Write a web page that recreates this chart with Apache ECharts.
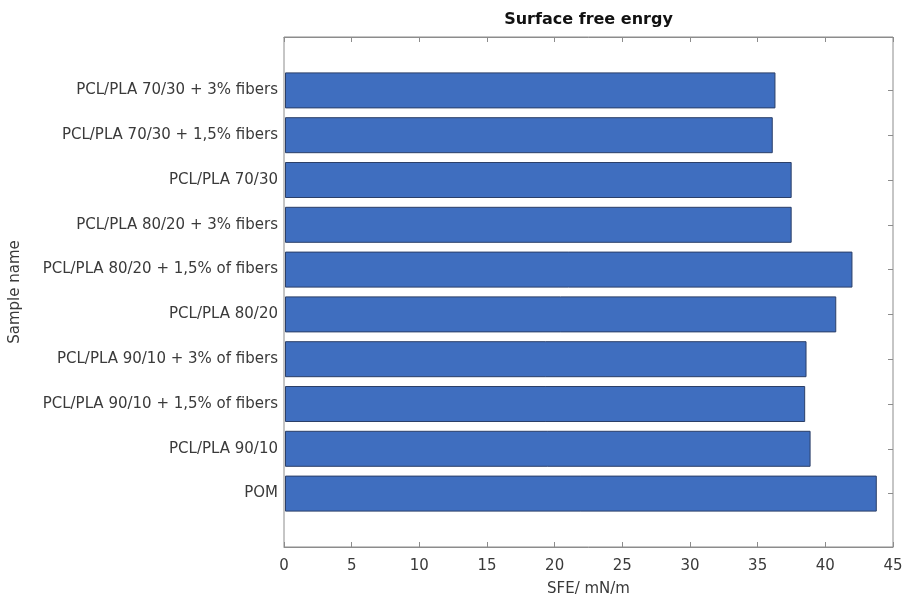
<!DOCTYPE html>
<html>
<head>
<meta charset="utf-8">
<script src="https://cdn.jsdelivr.net/npm/echarts@6/dist/echarts.min.js"></script>
<style>
html,body{margin:0;padding:0;background:#fff;}
#chart{width:906px;height:602px;}
</style>
</head>
<body>
<div id="chart"></div>
<script>
var categories = [
  'POM',
  'PCL/PLA 90/10',
  'PCL/PLA 90/10 + 1,5% of fibers',
  'PCL/PLA 90/10 + 3% of fibers',
  'PCL/PLA 80/20',
  'PCL/PLA 80/20 + 1,5% of fibers',
  'PCL/PLA 80/20 + 3% fibers',
  'PCL/PLA 70/30',
  'PCL/PLA 70/30 + 1,5% fibers',
  'PCL/PLA 70/30 + 3% fibers'
];
var sfeValues = [43.8, 38.9, 38.5, 38.6, 40.8, 42.0, 37.5, 37.5, 36.1, 36.3];
var xTicks = [0, 5, 10, 15, 20, 25, 30, 35, 40, 45];

var titleText = 'Surface free enrgy';
var xName = 'SFE/ mN/m';
var yName = 'Sample name';

var font = '"DejaVu Sans", "Liberation Sans", Arial, sans-serif';
var frameColor = '#8c8c8c';
var textColor = '#3a3a3a';

var chart = echarts.init(document.getElementById('chart'), null, {renderer: 'canvas'});
chart.setOption({
  animation: false,
  backgroundColor: '#ffffff',
  grid: [
    {left: 284, right: 13, top: 68, bottom: 86, containLabel: false},
    {left: 284, right: 13, top: 37, bottom: 55, containLabel: false,
     show: true, borderColor: frameColor, borderWidth: 1, backgroundColor: 'transparent'}
  ],
  xAxis: [
    {type: 'value', gridIndex: 0, min: xTicks[0], max: xTicks[xTicks.length - 1], interval: 5, show: false},
    {type: 'value', gridIndex: 1, position: 'bottom', min: xTicks[0], max: xTicks[xTicks.length - 1], interval: 5,
     axisLine: {show: true, lineStyle: {color: frameColor}},
     axisTick: {show: true, inside: true, length: 5, lineStyle: {color: frameColor}},
     axisLabel: {color: textColor, fontFamily: font, fontSize: 15, margin: 12},
     splitLine: {show: false},
     name: xName, nameLocation: 'middle', nameGap: 35,
     nameTextStyle: {color: textColor, fontFamily: font, fontSize: 15}},
    {type: 'value', gridIndex: 1, position: 'top', min: xTicks[0], max: xTicks[xTicks.length - 1], interval: 5,
     axisLine: {show: true, lineStyle: {color: frameColor}},
     axisTick: {show: true, inside: true, length: 5, lineStyle: {color: frameColor}},
     axisLabel: {show: false},
     splitLine: {show: false},
     name: titleText, nameLocation: 'middle', nameGap: 9,
     nameTextStyle: {color: '#111', fontFamily: font, fontSize: 16, fontWeight: 'bold'}}
  ],
  yAxis: [
    {type: 'category', gridIndex: 0, position: 'left', data: categories,
     axisLine: {show: false},
     axisTick: {show: true, inside: true, alignWithLabel: true, length: 5, lineStyle: {color: frameColor}},
     axisLabel: {color: textColor, fontFamily: font, fontSize: 15, margin: 7},
     name: yName, nameLocation: 'middle', nameGap: 262, nameRotate: 90,
     nameTextStyle: {color: textColor, fontFamily: font, fontSize: 15}},
    {type: 'category', gridIndex: 0, position: 'right', data: categories,
     axisLine: {show: false},
     axisTick: {show: true, inside: true, alignWithLabel: true, length: 5, lineStyle: {color: frameColor}},
     axisLabel: {show: false}},
    {type: 'value', gridIndex: 1, show: false, min: 0, max: 1}
  ],
  series: [{
    type: 'bar',
    xAxisIndex: 0,
    yAxisIndex: 0,
    data: sfeValues,
    barWidth: 36,
    itemStyle: {color: '#3f6ebf', borderColor: '#2b3f68', borderWidth: 1}
  }]
});
</script>
</body>
</html>
